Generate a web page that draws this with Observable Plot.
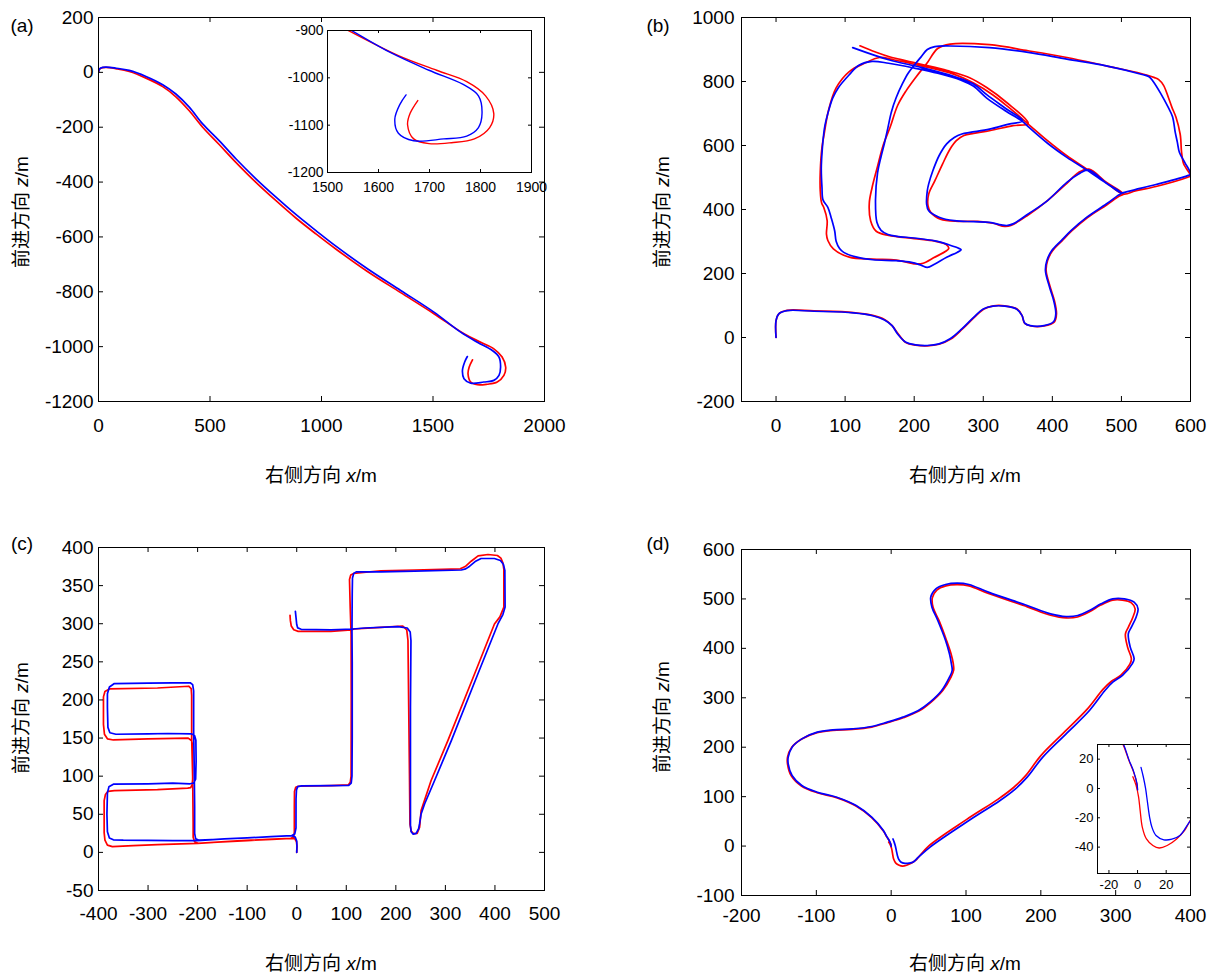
<!DOCTYPE html>
<html><head><meta charset="utf-8">
<script src="https://cdn.jsdelivr.net/npm/d3@7"></script>
<script src="https://cdn.jsdelivr.net/npm/@observablehq/plot@0.6"></script>
<style>
body{margin:0;background:#fff;}
#root{position:relative;width:1213px;height:973px;background:#fff;font-family:"Liberation Sans",Arial,"Noto Sans CJK SC",sans-serif;color:#000;overflow:hidden;}
.pl{position:absolute;}
.t{position:absolute;font-size:19px;white-space:nowrap;transform:translate(-50%,-50%);line-height:1;}
.ty{position:absolute;font-size:19px;white-space:nowrap;transform:translate(-50%,-50%) rotate(-90deg);line-height:1;}
</style></head><body><div id="root"></div>
<script>
// ---------------- data ----------------
const aXTicks = [0, 500, 1000, 1500, 2000];
const aYTicks = [-1200, -1000, -800, -600, -400, -200, 0, 200];
const aInsetXTicks = [1500, 1600, 1700, 1800, 1900];
const aInsetYTicks = [-1200, -1100, -1000, -900];
const aBlue = [[0,0],[3,10],[10,16],[33,19],[80,15],[138,7],[213,-15],[288,-45],[347,-79],[407,-127],[467,-188],[541,-249],[616,-315],[706,-388],[796,-455],[885,-518],[975,-577],[1060,-631],[1206,-716],[1355,-795],[1504,-874],[1624,-947],[1699,-984],[1766,-1014],[1796,-1038],[1803,-1075],[1796,-1105],[1773,-1123],[1728,-1129],[1669,-1133],[1639,-1117],[1632,-1087],[1642,-1056],[1654,-1036]];
const aRed = [[0,0],[3,9],[10,15],[33,18],[80,13],[138,3],[213,-21],[288,-52],[347,-89],[407,-140],[467,-200],[541,-263],[616,-328],[706,-401],[796,-468],[885,-531],[975,-589],[1064,-644],[1206,-726],[1355,-803],[1504,-880],[1639,-953],[1714,-984],[1773,-1008],[1810,-1038],[1826,-1075],[1818,-1105],[1788,-1129],[1743,-1137],[1699,-1139],[1669,-1129],[1657,-1099],[1662,-1075],[1677,-1048]];

const bXTicks = [0, 100, 200, 300, 400, 500, 600];
const bYTicks = [-200, 0, 200, 400, 600, 800, 1000];
const bBlue = [[0,0],[0,53],[4,74],[16,84],[55,82],[112,77],[140,68],[157,55],[168,37],[176,11],[188,-15],[202,-23],[219,-25],[236,-20],[252,-4],[269,27],[286,63],[300,89],[314,98],[331,98],[348,89],[356,69],[360,45],[368,37],[388,37],[402,50],[405,74],[402,115],[396,157],[390,209],[392,240],[399,271],[413,303],[427,334],[450,376],[478,417],[495,444],[500,451],
[478,482],[450,523],[421,563],[393,607],[365,659],[357,675],[333,707],[305,748],[286,785],[267,805],[234,826],[200,842],[163,857],[139,863],
[120,851],[106,821],[90,780],[82,748],[75,700],[71,665],[69,636],[67,590],[65.5,530],[66.5,469],[68,430],[75,407],[80,373],[85,332],[87,301],[92,278],[98,266],[117,251],[140,243],[174,240],[196,235],[210,226],[219,219],
[230,230],[247,251],[262,266],[268,274],[262,281],[250,290],[230,302],[200,311],[175,316],[162,322],[152,335],[146,360],[144,430],[147,515],[152,565],[157,608],[162,656],[167,705],[174,750],[183,793],[191,825],[199,848],[210,877],[219,900],[230,909],
[252,911],[309,906],[365,891],[421,870],[478,849],[530,822],[540,815],
[546,800],[557,762],[568,718],[574,690],[578,640],[581,610],[584,578],[592,546],[600,511],
[595,505],[550,478],[520,462],[507,455],[500,452],
[478,483],[452,524],
[438,511],[421,485],[393,428],[365,386],[343,355],[334,350],[326,352],[309,360],[286,362],[258,365],[236,376],[221,396],[218,417],[219,459],[221,480],[227,521],[236,568],[247,605],[258,625],[269,636],[281,641],[309,651],[337,667],[357,677],
[333,715],[305,759],[286,792],[257,816],[210,844],[163,868],[111,906]];
const bRed = [[0,0],[0,53],[4,74],[16,85],[55,83],[112,78],[140,69],[157,56],[168,37],[177,11],[188,-16],[202,-24],[219,-26],[236,-21],[253,-5],[270,27],[287,63],[301,89],[315,99],[331,99],[349,89],[356,69],[360,44],[369,36],[388,36],[403,49],[406,74],[403,115],[397,157],[391,209],[393,240],[400,270],[414,302],[428,333],[451,375],[479,415],[497,442],[503,448],
[478,485],[450,526],[421,568],[393,615],[365,667],[337,719],[314,758],[286,795],[257,823],[210,849],[170,868],[150,875],
[128,857],[106,831],[87,780],[76,710],[70,640],[66.5,594],[64,516],[64,459],[66,420],[69,407],[74,365],[73,323],[75,303],[83,277],[106,251],[140,245],[174,242],[202,230],[213,232],
[228,249],[250,278],[246,291],[230,301],[200,309],[163,319],[145,332],[137,364],[135,420],[139,468],[147,535],[155,600],[165,656],[176,725],[188,770],[203,815],[214,845],[220,862],[234,903],[252,917],
[309,915],[365,896],[421,875],[478,849],[523,828],[548,812],[554,806],
[561,788],[568,750],[573,720],[579,688],[585,636],[586,616],[587,580],[590,543],[594,528],[600,505],
[596,501],[550,472],[520,458],[503,448],
[478,485],[453,526],
[438,516],[421,482],[393,428],[365,383],[340,350],[331,347],[314,357],[292,363],[264,363],[238,370],[224,391],[220,412],[221,448],[230,490],[241,542],[252,589],[261,615],[272,631],[286,638],[309,646],[343,662],[365,669],
[333,736],[305,781],[281,811],[248,834],[210,854],[163,878],[144,892],[121.5,911.5]];

const cXTicks = [-400, -300, -200, -100, 0, 100, 200, 300, 400, 500];
const cYTicks = [-50, 0, 50, 100, 150, 200, 250, 300, 350, 400];
const cBlue = [[0,0],[0.5,8],[0,15],[-3,20],[-10,22],[-52,20.7],[-100,19],[-146,17.6],[-200,15.5],[-250,15.5],[-300,15.8],[-350,16],[-370,16.5],[-378,19],[-382,27],[-383,50],[-382,78],[-379,86],[-370,89.5],[-300,90],[-250,91],[-215,90],[-208,91],[-204,96],[-203,120],[-203.5,147],[-206,153],[-212,155.5],[-260,156],[-300,155.5],[-365,155],[-377,157],[-381,164],[-382,190],[-382,208],[-378,217],[-368,221.5],[-300,222],[-250,222.5],[-215,222.5],[-210,220],[-208,212],[-208,160],[-207,120],[-206,60],[-206,25],[-204,18],[-197,16],[-146,17.6],[-100,19],[-52,20.7],[-10,22],[-4,24],[-1.5,32],[-1.4,70],[-0.5,82],[2,86.3],[10,87.3],[69,87.6],[105,88],[110,91],[111.5,100],[112,150],[112,250],[111.5,290],[112,340],[112.5,360],[115,366],[120,368],[170,368],[238,369],[332,370.5],[341,372],[349,375.5],[360,381.5],[372,385.6],[399,385.6],[411,383],[417,378],[420,370],[420.5,322],[416,312],[406,299.7],[365.5,234],[312,146.6],[278,94],[258,63.5],[251,50.4],[248,38],[246,31],[241,25],[235,24],[231,27],[229.5,35],[229.5,103],[229.5,190],[230.5,278],[229,289],[223,294.4],[204,296.2],[137,294.4],[113,293.1],[69,292],[9,292.7],[2,294.5],[0,299],[-1.4,308],[-2.7,316.3]];
const cRed = [[0,0],[0.5,8],[-0.5,14],[-4,18],[-12,18.5],[-60,17],[-112,15.4],[-160,13.5],[-200,11.9],[-281,10.2],[-330,9],[-372,7.6],[-382,9.5],[-387,16],[-388.6,26],[-388.6,68],[-386,76],[-381,80],[-368,81],[-281,82.3],[-220,84.3],[-214,85],[-211,89],[-210,96],[-210,140],[-212,146.5],[-219,150],[-300,149],[-370,147.5],[-382,149],[-388,155],[-390,168],[-390,204],[-387,211],[-378,214.4],[-281,215.7],[-218,218],[-213,215],[-212,206],[-212,150],[-210,100],[-209,40],[-209,20],[-206,14],[-199,12],[-150,13.8],[-100,15.5],[-50,17.2],[-12,18.5],[-6,20],[-4.8,27],[-4.8,60],[-4.5,80],[-2,85.5],[3,86.8],[69,87.6],[104,88.5],[108,92],[109.7,100],[110,200],[109.7,286],[108,320],[106.5,358],[109,364],[115,366],[170,369.5],[238,370.5],[330,372],[340,375],[352,382],[366,389],[386,390.8],[405,389.5],[412,386],[416,380],[418,371],[418,322],[410,309],[399,299.7],[358.8,234],[305,146.6],[271,94],[251,54.8],[248,33],[243,25],[236,24.5],[231,28],[228.5,37],[227.5,103],[226,190],[224.5,278],[222,292],[214,297],[170,295.3],[116,293.1],[110,292],[69,290],[3,290],[-6,292],[-11,297],[-12.8,304],[-13.5,311]];

const dXTicks = [-200, -100, 0, 100, 200, 300, 400];
const dYTicks = [-100, 0, 100, 200, 300, 400, 500, 600];
const dInsetXTicks = [-20, 0, 20];
const dInsetYTicks = [-40, -20, 0, 20];
const dBlue = [[2.4,14.4],[4,8],[5.6,0],[6.9,-9.2],[8.4,-19.5],[10,-26.3],[12.9,-32.1],[18.4,-35],[24,-34.6],[29.6,-32.1],[36.2,-22.9],[52,-2],[103.9,51.7],[145.5,92.2],[166.2,115.8],[181.8,139.4],[202.6,179.9],[233.8,227.1],[265,274.3],[285.7,314.7],[296.1,331.6],[309.1,345.1],[322.1,368.7],[324.7,378.8],[319.5,402.4],[316.9,429.4],[321,442.9],[327.3,463.1],[329.9,480],[324.7,493.5],[311.7,500.2],[296.1,500.2],[280.5,490.1],[264.9,476.6],[249.4,466.5],[233.8,464.4],[213,469.8],[181.8,486.7],[129.9,513.7],[103.9,529.2],[88.3,531.9],[72.7,529.2],[59.7,520.4],[52.9,503.6],[54.5,483.3],[62.3,456.4],[72.7,416],[77.9,389],[80.5,368.7],[81.5,355.2],[77.9,341.7],[67.5,314.7],[51.9,291.1],[36.4,274.3],[15.6,260.8],[-5.2,250.7],[-26,241.9],[-51.9,237.2],[-77.9,235.1],[-98.7,230.4],[-119.4,216.9],[-132.4,200.1],[-137.6,179.9],[-137.6,166.4],[-132.4,142.8],[-119.4,122.5],[-98.7,109],[-72.7,98.9],[-46.8,82],[-26,58.5],[-10.4,31.5],[-6,19.5],[-2.7,11.5],[-0.4,3.4],[0,-1]];
const dRed = [[-3.3,8],[-1.1,2.3],[0.7,-5.7],[1.8,-14.9],[3.3,-26.3],[6.2,-34.4],[10.7,-38.9],[15.1,-40.6],[20.7,-38.9],[27.3,-34.4],[32.9,-28.6],[36.2,-22.9],[50,0],[101,54],[143,95],[164,119],[180,143],[200,183],[231,230],[262,277],[283,317],[294,333],[307,346],[319,368],[321,379],[316,402],[313,429],[317,443],[323,463],[326,480],[321,492],[309,497.5],[296,497.5],[280,487.5],[265,474],[249,463.5],[234,461.5],[213,467],[182,484],[130,511],[104,526.5],[88,529],[73,526.5],[61,518],[55,502],[56,483],[64,456],[74,416],[80,389],[83,369],[83.5,356],[80,342],[69,315],[53,291],[37,273],[16,259.5],[-5,249.5],[-26,240.8],[-52,236],[-78,234],[-99,229.5],[-120,216],[-133,199.5],[-138.5,180],[-138.5,166],[-133.5,142],[-120,121.5],[-99,108],[-73,98],[-47,81],[-26,57.5],[-10.4,30.5],[-6,19],[-2.7,11],[-0.4,3],[0,-1]];

// ---------------- drawing ----------------
const root = document.getElementById("root");
const FONT = '"Liberation Sans", Arial, "Noto Sans CJK SC", sans-serif';
const fmt = d => String(d);

function panel(o) {
  const iw = o.w - o.ml - o.mr, ih = o.h - o.mt - o.mb, tl = o.tl;
  const marks = [];
  if (o.fill) marks.push(Plot.frame({fill: "white"}));
  marks.push(Plot.line(o.red, {x: d => d[0], y: d => d[1], stroke: "#ff0000", strokeWidth: o.sw, curve: o.curve, clip: true}));
  marks.push(Plot.line(o.blue, {x: d => d[0], y: d => d[1], stroke: "#0000ff", strokeWidth: o.sw, curve: o.curve, clip: true}));
  marks.push(Plot.tickX(o.xTicks, {x: d => d, insetTop: ih - tl, stroke: "#000"}));
  marks.push(Plot.tickX(o.xTicks, {x: d => d, insetBottom: ih - tl, stroke: "#000"}));
  marks.push(Plot.tickY(o.yTicks, {y: d => d, insetRight: iw - tl, stroke: "#000"}));
  marks.push(Plot.tickY(o.yTicks, {y: d => d, insetLeft: iw - tl, stroke: "#000"}));
  marks.push(Plot.axisX(o.xTicks, {anchor: "bottom", tickSize: 0, tickPadding: o.xPad, tickFormat: fmt, fontSize: o.fs, label: null}));
  marks.push(Plot.axisY(o.yTicks, {anchor: "left", tickSize: 0, tickPadding: o.yPad, tickFormat: fmt, fontSize: o.fs, label: null}));
  marks.push(Plot.frame({stroke: "#000", strokeWidth: 1}));
  const svg = Plot.plot({
    width: o.w, height: o.h,
    marginLeft: o.ml, marginRight: o.mr, marginTop: o.mt, marginBottom: o.mb,
    x: {domain: o.xDomain},
    y: {domain: o.yDomain},
    style: {fontFamily: FONT, fontSize: o.fs + "px", color: "#000", background: "transparent", overflow: "visible"},
    marks
  });
  svg.classList.add("pl");
  svg.style.left = o.left + "px";
  svg.style.top = o.top + "px";
  root.appendChild(svg);
}

function text(html, x, y, cls) {
  const d = document.createElement("div");
  d.className = cls;
  d.innerHTML = html;
  d.style.left = x + "px";
  d.style.top = y + "px";
  root.appendChild(d);
}

const main = {tl: 5, sw: 1.7, fs: 19, curve: "catmull-rom"};

panel({...main, left: 0, top: 0, w: 600, h: 460, ml: 98, mr: 56, mt: 17, mb: 59, xPad: 17, yPad: 5,
  xDomain: [0, 2000], yDomain: [-1200, 200], xTicks: aXTicks, yTicks: aYTicks, red: aRed, blue: aBlue});
panel({tl: 3, sw: 1.4, fs: 14, curve: "catmull-rom", fill: true, left: 270, top: 10, w: 280, h: 200, ml: 57, mr: 19, mt: 20, mb: 38, xPad: 10, yPad: 4,
  xDomain: [1500, 1900], yDomain: [-1200, -900], xTicks: aInsetXTicks, yTicks: aInsetYTicks, red: aRed, blue: aBlue});

panel({...main, left: 600, top: 0, w: 613, h: 460, ml: 141, mr: 23, mt: 17, mb: 59, xPad: 17, yPad: 7,
  xDomain: [-50, 600], yDomain: [-200, 1000], xTicks: bXTicks, yTicks: bYTicks, red: bRed, blue: bBlue});

panel({...main, curve: "linear", left: 0, top: 490, w: 600, h: 460, ml: 98, mr: 56, mt: 57, mb: 60, xPad: 16, yPad: 5,
  xDomain: [-400, 500], yDomain: [-50, 400], xTicks: cXTicks, yTicks: cYTicks, red: cRed, blue: cBlue});

panel({...main, left: 600, top: 490, w: 613, h: 460, ml: 141, mr: 23, mt: 59, mb: 55, xPad: 13, yPad: 7,
  xDomain: [-200, 400], yDomain: [-100, 600], xTicks: dXTicks, yTicks: dYTicks, red: dRed, blue: dBlue});
panel({tl: 3, sw: 1.3, fs: 13, curve: "catmull-rom", fill: true, left: 1040, top: 730, w: 165, h: 170, ml: 57, mr: 15, mt: 14, mb: 27, xPad: 6, yPad: 4,
  xDomain: [-28, 37], yDomain: [-58, 30], xTicks: dInsetXTicks, yTicks: dInsetYTicks, red: dRed, blue: dBlue});

// titles & panel letters
const xTitle = "右侧方向 <i>x</i>/m";
const yTitle = "前进方向 <i>z</i>/m";
text("(a)", 22, 25, "t"); text("(b)", 658, 25, "t"); text("(c)", 22, 543, "t"); text("(d)", 658, 543, "t");
text(xTitle, 321, 475, "t"); text(xTitle, 965, 475, "t"); text(xTitle, 321, 963, "t"); text(xTitle, 965, 963, "t");
text(yTitle, 21, 212, "ty"); text(yTitle, 662, 212, "ty"); text(yTitle, 21, 718, "ty"); text(yTitle, 662, 717, "ty");
</script></body></html>
